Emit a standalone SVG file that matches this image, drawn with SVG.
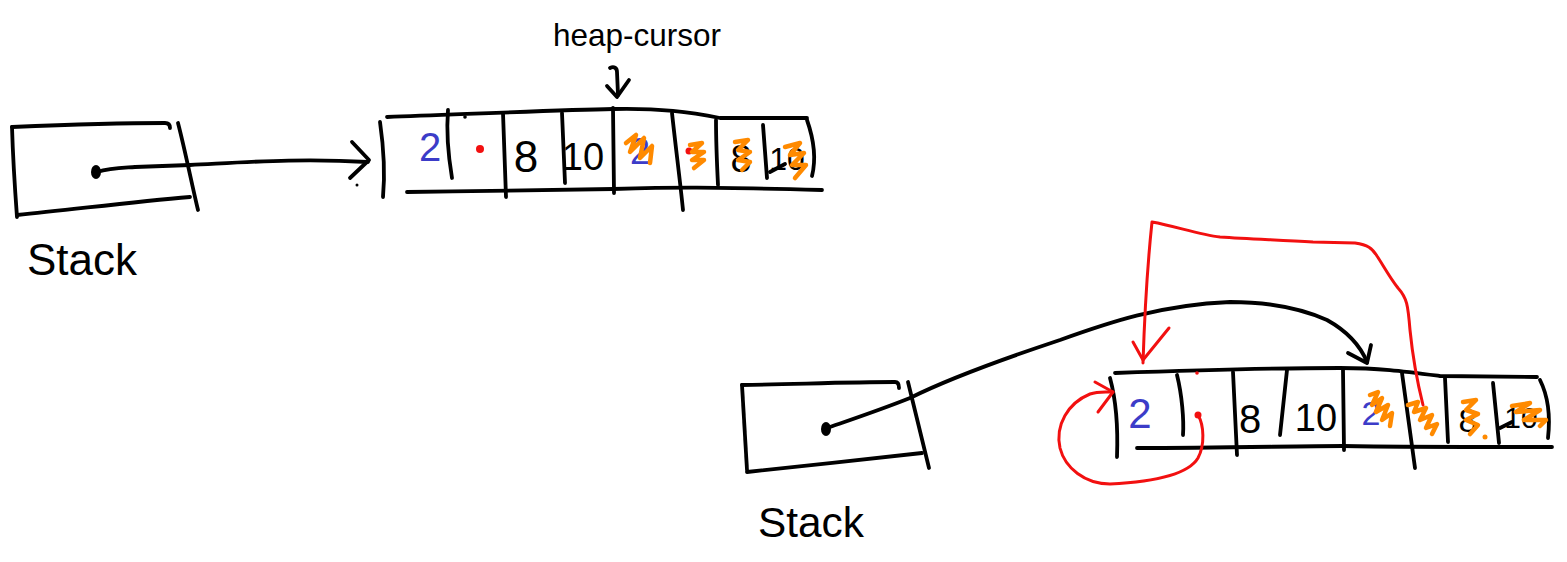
<svg xmlns="http://www.w3.org/2000/svg" width="1567" height="562" viewBox="0 0 1567 562">
<style>
.k{fill:none;stroke:#000;stroke-width:3.8;stroke-linecap:round;stroke-linejoin:round}
.r{fill:none;stroke:#f21010;stroke-width:3;stroke-linecap:round;stroke-linejoin:round}
.o{fill:none;stroke:#ff8a00;stroke-width:4.5;stroke-linecap:round;stroke-linejoin:round}
.t{font-family:"Liberation Sans",Arial,sans-serif;fill:#000}
.b{font-family:"Liberation Sans",Arial,sans-serif;fill:#3c3cc8}
</style>
<rect width="1567" height="562" fill="#fff"/>

<g id="stack1">
<path class="k" d="M12,127 C60,125 120,123 165,123 Q170,123 170,128"/>
<path class="k" d="M12,127 C13,160 15,190 17,217"/>
<path class="k" d="M17,215 C70,210 130,202 190,197"/>
<path class="k" d="M178,123 C185,150 192,185 198,210"/>
<ellipse cx="96" cy="172" rx="5" ry="7" fill="#000"/>
<text class="t" x="27" y="275" font-size="44" textLength="110" lengthAdjust="spacingAndGlyphs">Stack</text>
</g>

<g id="heap1">
<path class="k" d="M380,122 C384,150 385,175 383,197"/>
<path class="k" d="M387,117 C470,114 560,110 613,109 C660,108 690,112 720,118 L807,118"/>
<path class="k" d="M407,192 C480,191 560,190 613,189 C680,187 700,187 822,190"/>
<path class="k" d="M448,110 C446,135 449,160 452,178"/>
<path class="k" d="M503,113 L506,197"/>
<path class="k" d="M562,113 L565,183"/>
<path class="k" d="M613,108 L614,193"/>
<path class="k" d="M672,113 C676,150 680,180 683,210"/>
<path class="k" d="M716,120 C716,140 717,165 718,185"/>
<path class="k" d="M763,125 L767,178"/>
<path class="k" d="M807,120 C814,140 816,160 812,176"/>
<circle cx="465" cy="117" r="1.8" fill="#000"/>
<text class="b" x="430" y="161" font-size="40" text-anchor="middle">2</text>
<circle cx="480" cy="149" r="4" fill="#f21010"/>
<text class="t" x="526" y="172" font-size="44" text-anchor="middle">8</text>
<text class="t" x="583" y="170" font-size="38" text-anchor="middle">10</text>
<text class="b" x="640" y="164" font-size="36" text-anchor="middle">2</text>
<path class="o" d="M626,143 L636,135 L630,152 L644,138 L640,158 L652,146 L650,163"/>
<circle cx="689" cy="151" r="3.5" fill="#f21010"/>
<path class="o" d="M690,145 L702,143 L692,152 L704,152 L692,160 L704,160 L694,168"/>
<text class="t" x="741" y="172" font-size="38" text-anchor="middle">8</text>
<path class="o" d="M735,142 L748,140 L738,150 L750,152 L738,160 L750,162 L742,170"/>
<text class="t" x="787" y="170" font-size="32" text-anchor="middle">10</text>
<path class="k" d="M770,172 L785,164"/>
<path class="o" d="M785,147 L800,143 L790,155 L804,153 L792,165 L806,165 L795,178"/>
</g>

<g id="heap-cursor">
<text class="t" x="553" y="46" font-size="32" textLength="168" lengthAdjust="spacingAndGlyphs">heap-cursor</text>
</g>

<g id="stack2">
<path class="k" d="M742,385 C800,384 850,382 895,382 Q899,382 899,388"/>
<path class="k" d="M742,385 C744,420 746,450 747,470"/>
<path class="k" d="M747,472 C800,466 870,459 922,453"/>
<path class="k" d="M908,382 C915,410 922,440 929,468"/>
<ellipse cx="826" cy="429" rx="5" ry="7" fill="#000"/>
<text class="t" x="758" y="537" font-size="42" textLength="106" lengthAdjust="spacingAndGlyphs">Stack</text>
</g>

<g id="heap2">
<path class="k" d="M1110,378 C1116,400 1118,430 1117,457"/>
<path class="k" d="M1115,373 C1200,370 1290,368 1340,368 C1380,368 1402,371 1440,376 L1537,377"/>
<path class="k" d="M1137,448 C1220,448 1300,446 1343,446 C1400,447 1480,447 1552,447"/>
<path class="k" d="M1177,375 C1182,395 1184,420 1183,435"/>
<path class="k" d="M1233,372 L1237,455"/>
<path class="k" d="M1287,370 L1280,435"/>
<path class="k" d="M1343,370 L1344,450"/>
<path class="k" d="M1402,373 L1415,468"/>
<path class="k" d="M1445,378 L1448,442"/>
<path class="k" d="M1493,383 L1499,443"/>
<path class="k" d="M1540,380 C1550,400 1550,420 1548,438"/>
<text class="b" x="1140" y="428" font-size="42" text-anchor="middle">2</text>
<circle cx="1197" cy="373" r="1.8" fill="#f21010"/>
<circle cx="1198" cy="415" r="3.5" fill="#f21010"/>
<text class="t" x="1250" y="433" font-size="40" text-anchor="middle">8</text>
<text class="t" x="1316" y="431" font-size="38" text-anchor="middle">10</text>
<text class="b" x="1371" y="425" font-size="34" text-anchor="middle">2</text>
<path class="o" d="M1370,395 L1378,392 L1372,405 L1382,398 L1376,412 L1388,405 L1382,420 L1392,413 L1390,426"/>
<path class="o" d="M1408,405 L1418,402 L1414,412 L1426,408 L1420,420 L1432,415 L1426,428 L1437,424 L1432,434"/>
<text class="t" x="1468" y="432" font-size="34" text-anchor="middle">8</text>
<path class="o" d="M1463,402 L1476,400 L1466,410 L1478,414 L1466,420 L1478,425 L1470,434"/>
<circle cx="1485" cy="437" r="2.5" fill="#ff8a00"/>
<text class="t" x="1521" y="428" font-size="30" text-anchor="middle">10</text>
<path class="k" d="M1500,428 L1512,422"/>
<path class="o" d="M1512,406 L1530,403 L1516,412 L1540,410 L1524,420 L1546,420 L1540,426"/>
</g>

<g id="connectors">
<path class="k" d="M97,172 C110,168 120,168 135,167 L190,165 C250,162 300,158 368,162"/>
<path class="k" d="M352,142 L369,160 L350,178"/>
<circle cx="357" cy="185" r="1.5" fill="#000"/>
<path class="k" d="M610,68 C614,66 617,68 617,72 L618,95"/>
<path class="k" d="M607,86 L617,97 L629,80"/>
<path class="k" d="M827,428 C850,420 880,410 910,398 C950,378 1000,360 1060,340 C1110,322 1160,305 1230,302 C1270,302 1300,308 1327,320 C1345,330 1360,345 1367,362"/>
<path class="k" d="M1348,353 L1367,363 L1371,345"/>
<path class="r" d="M1198,415 C1204,425 1205,445 1198,458 C1188,475 1150,482 1110,484 C1085,484 1065,468 1060,448 C1055,425 1068,403 1090,394 C1098,391 1106,392 1113,392"/>
<path class="r" d="M1095,382 L1113,392 L1098,412"/>
<path class="r" d="M1423,405 C1418,385 1413,360 1410,330 C1408,305 1407,298 1398,288 C1390,278 1383,265 1377,256 C1372,248 1368,245 1355,243 L1313,242 C1280,240 1250,239 1220,237 C1200,235 1175,226 1152,222 C1148,260 1145,300 1143,363"/>
<path class="r" d="M1133,342 L1143,360 L1169,328"/>
</g>
</svg>
